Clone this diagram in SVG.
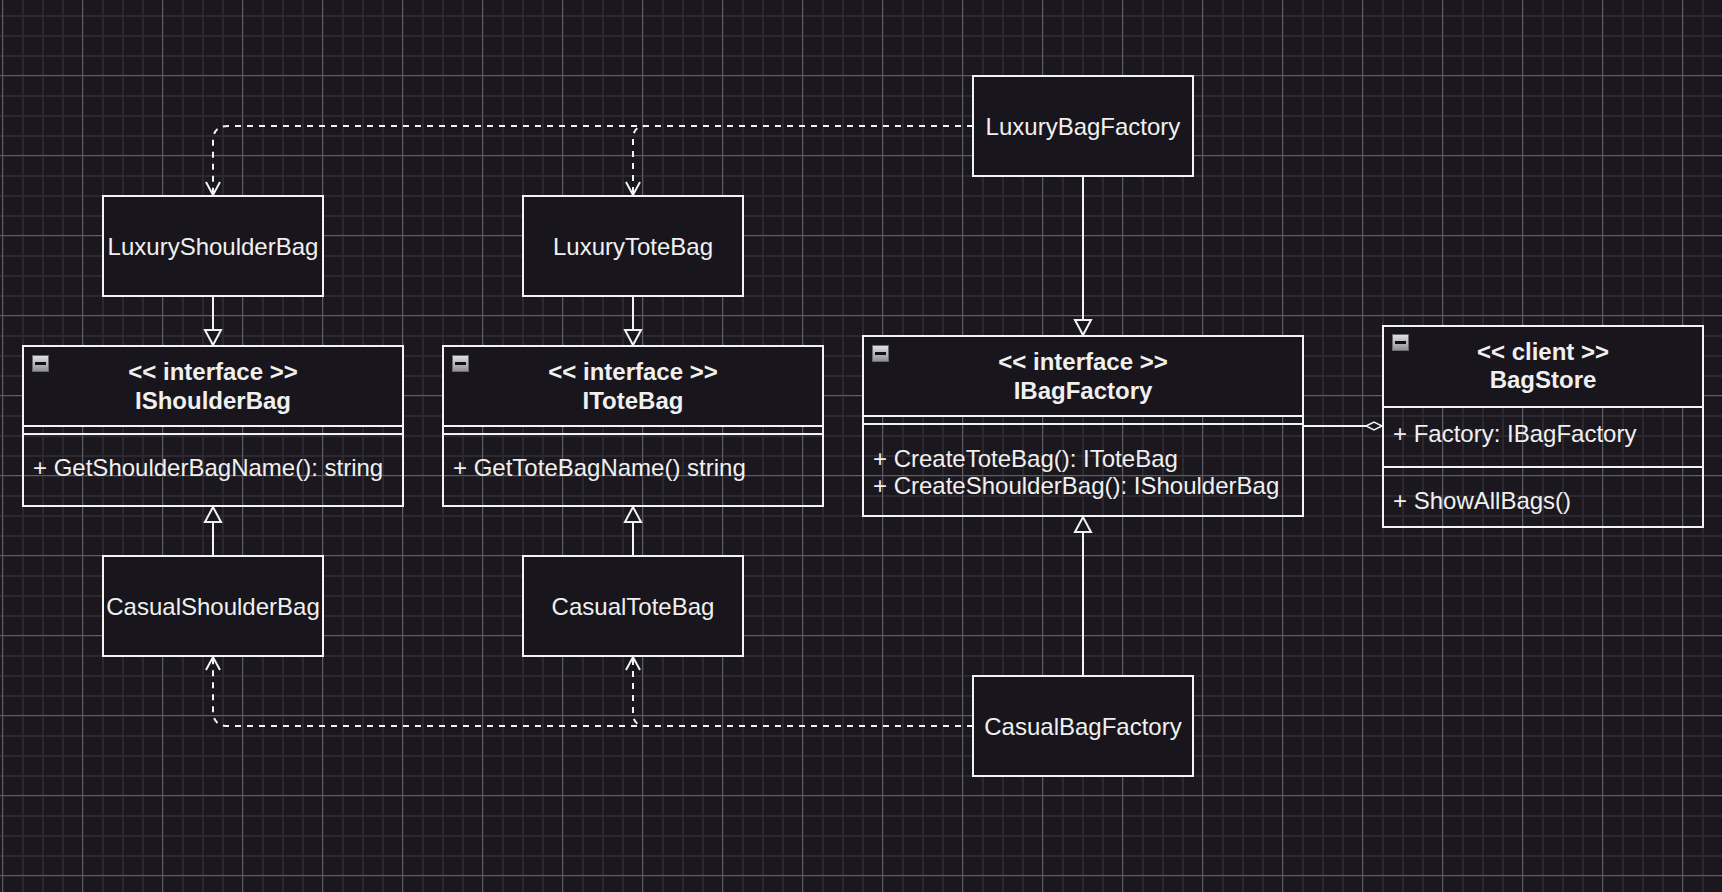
<svg xmlns="http://www.w3.org/2000/svg" xmlns:xlink="http://www.w3.org/1999/xlink" width="1722" height="892" viewBox="0 0 1722 892">
<defs>
<style>
.box{fill:#18161c;stroke:#f2f2f2;stroke-width:2}
.out{fill:none;stroke:#f2f2f2;stroke-width:2}
.sep{stroke:#f2f2f2;stroke-width:2}
.t{font-family:"Liberation Sans",Helvetica,Arial,sans-serif;font-size:24px;fill:#f0f0f0}
.c{text-anchor:middle}
.b{font-weight:bold}
.edge{fill:none;stroke:#f2f2f2;stroke-width:2}
.dash{stroke-dasharray:6 6}
</style>
<pattern id="minor" width="20" height="20" patternUnits="userSpaceOnUse" x="2" y="15">
<path d="M1,0 V20 M0,1 H20" stroke="#2b292f" stroke-width="2" fill="none"/>
</pattern>
<pattern id="major" width="80" height="80" patternUnits="userSpaceOnUse" x="2" y="-5">
<path d="M0.5,0 V80 M0,0.5 H80" stroke="#5d5c62" stroke-width="1" fill="none"/>
</pattern>
<linearGradient id="ig" x1="0" y1="0" x2="0" y2="1">
<stop offset="0" stop-color="#e2e2e6"/>
<stop offset="1" stop-color="#8e8e94"/>
</linearGradient>
<g id="minus">
<rect x="0.5" y="0.5" width="16" height="16" fill="url(#ig)" stroke="#6a6a70" stroke-width="1"/>
<rect x="3" y="7" width="11" height="3" fill="#111"/>
</g>
<marker id="tri" markerUnits="userSpaceOnUse" markerWidth="20" markerHeight="20" refX="15" refY="8" orient="auto" overflow="visible">
<path d="M0,0 L15,8 L0,16 Z" fill="#1a181e" stroke="#f2f2f2" stroke-width="2" stroke-linejoin="miter"/>
</marker>
<marker id="open" markerUnits="userSpaceOnUse" markerWidth="20" markerHeight="20" refX="13" refY="7" orient="auto" overflow="visible">
<path d="M0,0 L13,7 L0,14" fill="none" stroke="#f2f2f2" stroke-width="2"/>
</marker>
<marker id="dia" markerUnits="userSpaceOnUse" markerWidth="20" markerHeight="12" refX="16" refY="4" orient="auto" overflow="visible">
<path d="M0,4 L8,0 L16,4 L8,8 Z" fill="#1a181e" stroke="#f2f2f2" stroke-width="1.5"/>
</marker>
</defs>
<rect width="1722" height="892" fill="#1a181e"/>
<rect width="1722" height="892" fill="url(#minor)"/>
<rect width="1722" height="892" fill="url(#major)"/>

<g id="connectors">
<path class="edge dash" d="M973,126 H228 Q213,126 213,141 V195" marker-end="url(#open)"/>
<path class="edge dash" d="M973,126 H646 Q633,126 633,139 V195" marker-end="url(#open)"/>
<path class="edge dash" d="M973,726 H228 Q213,726 213,711 V657" marker-end="url(#open)"/>
<path class="edge dash" d="M973,726 H646 Q633,726 633,713 V657" marker-end="url(#open)"/>
<path class="edge" d="M213,296 V345" marker-end="url(#tri)"/>
<path class="edge" d="M633,296 V345" marker-end="url(#tri)"/>
<path class="edge" d="M213,556 V507" marker-end="url(#tri)"/>
<path class="edge" d="M633,556 V507" marker-end="url(#tri)"/>
<path class="edge" d="M1083,176 V335" marker-end="url(#tri)"/>
<path class="edge" d="M1083,676 V517" marker-end="url(#tri)"/>
<path class="edge" d="M1303,426 H1382" marker-end="url(#dia)"/>
</g>

<g id="LuxuryBagFactory">
<rect class="box" x="973" y="76" width="220" height="100"/>
<text class="t c" x="1083" y="134.5">LuxuryBagFactory</text>
</g>
<g id="LuxuryShoulderBag">
<rect class="box" x="103" y="196" width="220" height="100"/>
<text class="t c" x="213" y="254.5">LuxuryShoulderBag</text>
</g>
<g id="LuxuryToteBag">
<rect class="box" x="523" y="196" width="220" height="100"/>
<text class="t c" x="633" y="254.5">LuxuryToteBag</text>
</g>
<g id="CasualShoulderBag">
<rect class="box" x="103" y="556" width="220" height="100"/>
<text class="t c" x="213" y="614.5">CasualShoulderBag</text>
</g>
<g id="CasualToteBag">
<rect class="box" x="523" y="556" width="220" height="100"/>
<text class="t c" x="633" y="614.5">CasualToteBag</text>
</g>
<g id="CasualBagFactory">
<rect class="box" x="973" y="676" width="220" height="100"/>
<text class="t c" x="1083" y="734.5">CasualBagFactory</text>
</g>

<g id="IShoulderBag">
<rect class="box" x="23" y="346" width="380" height="80"/>
<rect class="out" x="23" y="346" width="380" height="160"/>
<line class="sep" x1="23" y1="434" x2="403" y2="434"/>
<use xlink:href="#minus" x="32" y="355"/>
<text class="t c b" x="213" y="380">&lt;&lt; interface &gt;&gt;</text>
<text class="t c b" x="213" y="409">IShoulderBag</text>
<text class="t" x="33" y="476">+ GetShoulderBagName(): string</text>
</g>
<g id="IToteBag">
<rect class="box" x="443" y="346" width="380" height="80"/>
<rect class="out" x="443" y="346" width="380" height="160"/>
<line class="sep" x1="443" y1="434" x2="823" y2="434"/>
<use xlink:href="#minus" x="452" y="355"/>
<text class="t c b" x="633" y="380">&lt;&lt; interface &gt;&gt;</text>
<text class="t c b" x="633" y="409">IToteBag</text>
<text class="t" x="453" y="476">+ GetToteBagName() string</text>
</g>
<g id="IBagFactory">
<rect class="box" x="863" y="336" width="440" height="80"/>
<rect class="out" x="863" y="336" width="440" height="180"/>
<line class="sep" x1="863" y1="424" x2="1303" y2="424"/>
<use xlink:href="#minus" x="872" y="345"/>
<text class="t c b" x="1083" y="370">&lt;&lt; interface &gt;&gt;</text>
<text class="t c b" x="1083" y="399">IBagFactory</text>
<text class="t" x="873" y="467">+ CreateToteBag(): IToteBag</text>
<text class="t" x="873" y="494">+ CreateShoulderBag(): IShoulderBag</text>
</g>
<g id="BagStore">
<rect class="box" x="1383" y="326" width="320" height="81"/>
<rect class="out" x="1383" y="326" width="320" height="201"/>
<line class="sep" x1="1383" y1="467" x2="1703" y2="467"/>
<use xlink:href="#minus" x="1392" y="334"/>
<text class="t c b" x="1543" y="360">&lt;&lt; client &gt;&gt;</text>
<text class="t c b" x="1543" y="388">BagStore</text>
<text class="t" x="1393" y="442">+ Factory: IBagFactory</text>
<text class="t" x="1393" y="509">+ ShowAllBags()</text>
</g>
</svg>
